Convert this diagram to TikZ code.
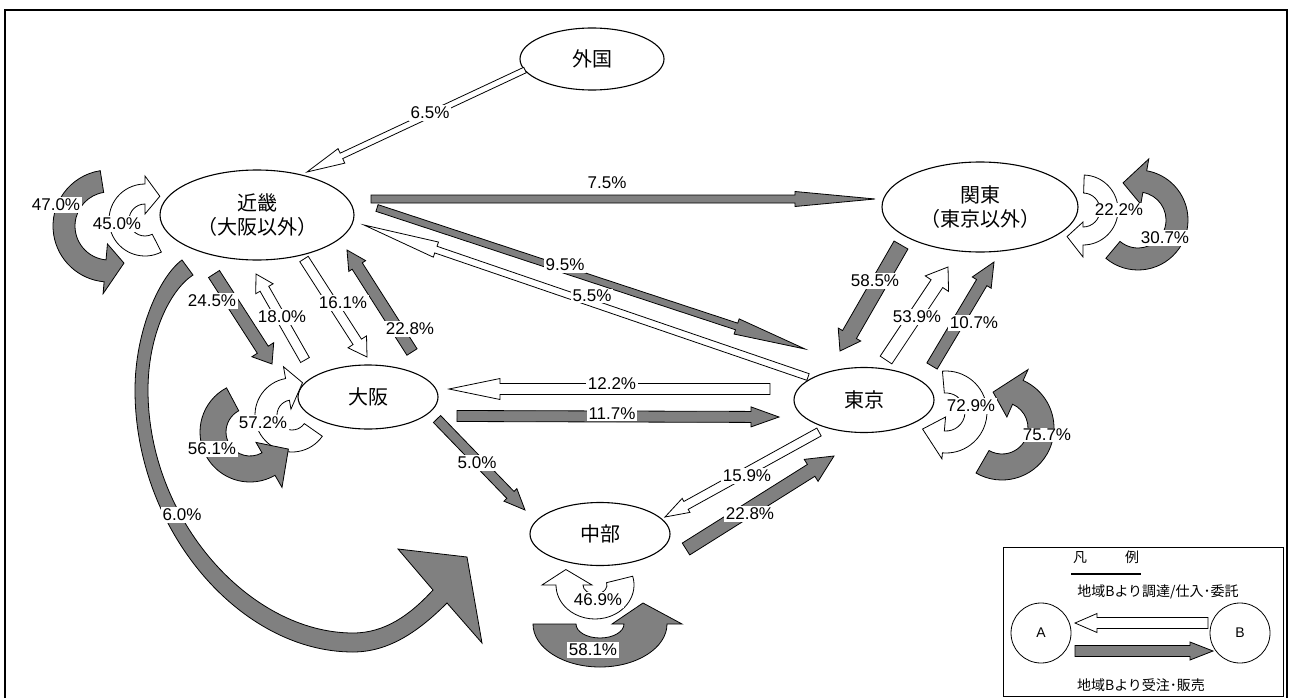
\documentclass[tikz,border=0pt]{standalone}
\usepackage{fontspec}
\setmainfont{Liberation Sans}
\newfontfamily\jpfont{Noto Sans CJK JP}
\usetikzlibrary{shapes.geometric,calc}
\definecolor{arrgray}{HTML}{808080}

% straight block arrow: style, tail, tip, half shaft width, half head width, head length
\newcommand\blockarrow[6]{%
  \coordinate (ba-base) at ($(#3)!#6pt!(#2)$);
  \draw[#1] ($(#2)!#4pt!90:(#3)$) -- ($(ba-base)!#4pt!90:(#3)$)
    -- ($(ba-base)!#5pt!90:(#3)$) -- (#3) -- ($(ba-base)!#5pt!-90:(#3)$)
    -- ($(ba-base)!#4pt!-90:(#3)$) -- ($(#2)!#4pt!-90:(#3)$) -- cycle;
}

\begin{document}
\begin{tikzpicture}[x=1pt,y=1pt,
  region/.style={draw, ellipse, line width=1.1pt, fill=white, inner sep=0pt,
    font=\jpfont\fontsize{20}{24}\selectfont, align=center},
  garr/.style={draw=black, fill=arrgray, line width=0.8pt, line join=miter},
  warr/.style={draw=black, fill=white, line width=0.8pt, line join=miter},
  pct/.style={fill=white, inner sep=1.5pt, font=\fontsize{17}{20}\selectfont},
  legtext/.style={font=\jpfont\fontsize{14}{16}\selectfont, inner sep=0pt},
]
\useasboundingbox (0,0) rectangle (1289,-698);
\fill[white] (0,0) rectangle (1289,-698);
\draw[line width=2.5pt] (5,-698) -- (5,-10) -- (1287,-10) -- (1287,-698);

% regions
\node[region, minimum width=144pt, minimum height=62pt] (gaikoku) at (592,-59) {外国};
\node[region, minimum width=194pt, minimum height=90pt] (kinki) at (257,-215) {近畿\\（大阪以外）};
\node[region, minimum width=196pt, minimum height=90pt] (kanto) at (980,-207) {関東\\（東京以外）};
\node[region, minimum width=140pt, minimum height=64pt] (osaka) at (368,-397) {大阪};
\node[region, minimum width=140pt, minimum height=65pt] (tokyo) at (864,-400) {東京};
\node[region, minimum width=140pt, minimum height=63pt] (chubu) at (600,-534) {中部};

% arrow ends
\coordinate (gai-kin-t) at (525,-70);  \coordinate (gai-kin-h) at (307,-172);
\coordinate (kin-kan-t) at (371,-199); \coordinate (kin-kan-h) at (875,-199);
\coordinate (kin-tok-t) at (377,-208); \coordinate (kin-tok-h) at (805,-349);
\coordinate (tok-kin-t) at (808,-377); \coordinate (tok-kin-h) at (364,-225);
\coordinate (kin-osa-t) at (214,-274); \coordinate (kin-osa-h) at (272,-364);
\coordinate (osa-kin-t) at (305,-360); \coordinate (osa-kin-h) at (256,-274);
\coordinate (kin-osb-t) at (304,-259); \coordinate (kin-osb-h) at (367,-357);
\coordinate (osa-kib-t) at (412,-352); \coordinate (osa-kib-h) at (347,-250);
\coordinate (tok-osa-t) at (770,-389); \coordinate (tok-osa-h) at (449,-389);
\coordinate (osa-tok-t) at (457,-416); \coordinate (osa-tok-h) at (779,-417);
\coordinate (osa-chu-t) at (437,-419); \coordinate (osa-chu-h) at (525,-510);
\coordinate (tok-chu-t) at (819,-432); \coordinate (tok-chu-h) at (665,-517);
\coordinate (chu-tok-t) at (686,-549); \coordinate (chu-tok-h) at (834,-456);
\coordinate (kan-tok-t) at (901,-245); \coordinate (kan-tok-h) at (840,-351);
\coordinate (tok-kan-t) at (886,-360); \coordinate (tok-kan-h) at (948,-267);
\coordinate (tok-kab-t) at (932,-366); \coordinate (tok-kab-h) at (994,-262);

\blockarrow{warr}{gai-kin-t}{gai-kin-h}{3}{8}{38}
\blockarrow{garr}{kin-kan-t}{kin-kan-h}{4}{7.5}{80}
\blockarrow{garr}{kin-tok-t}{kin-tok-h}{3.5}{8}{72}
\blockarrow{warr}{tok-kin-t}{tok-kin-h}{3.5}{8}{76}
\blockarrow{garr}{kin-osa-t}{kin-osa-h}{6.5}{13}{17}
\blockarrow{warr}{osa-kin-t}{osa-kin-h}{5}{10}{17}
\blockarrow{warr}{kin-osb-t}{kin-osb-h}{5}{11}{18}
\blockarrow{garr}{osa-kib-t}{osa-kib-h}{6}{10}{19}
\blockarrow{warr}{tok-osa-t}{tok-osa-h}{5.5}{10.5}{51}
\blockarrow{garr}{osa-tok-t}{osa-tok-h}{5.5}{10}{28}
\blockarrow{garr}{osa-chu-t}{osa-chu-h}{5}{9}{21}
\blockarrow{warr}{tok-chu-t}{tok-chu-h}{4.5}{8}{24}
\blockarrow{garr}{chu-tok-t}{chu-tok-h}{7}{13}{27}
\blockarrow{garr}{kan-tok-t}{kan-tok-h}{8}{13}{19}
\blockarrow{warr}{tok-kan-t}{tok-kan-h}{7}{14}{20}
\blockarrow{garr}{tok-kab-t}{tok-kab-h}{6}{11}{24}

% loops of 近畿
\begin{scope}[shift={(109,-226)}]
\draw[garr] (99:56) arc[start angle=99, end angle=265, radius=56] -- (265:68)
  -- (292:40) -- (265:18) -- (265:34) arc[start angle=265, end angle=99, radius=34] -- cycle;
\end{scope}
\begin{scope}[shift={(145,-220)}]
\draw[warr] (297:36) arc[start angle=297, end angle=90, radius=36] -- (90:44)
  -- (58:28) -- (90:6) -- (90:16) arc[start angle=90, end angle=297, radius=16] -- cycle;
\end{scope}
% 近畿 to 中部, long way round
\draw[garr] (182,-260) .. controls (160,-276) and (135,-330) .. (135,-390)
  .. controls (135,-530) and (240,-652) .. (353,-652)
  .. controls (390,-652) and (420,-630) .. (447,-603)
  -- (482,-643) -- (467,-557) -- (398,-549) -- (433,-590)
  .. controls (410,-615) and (385,-633) .. (353,-633)
  .. controls (250,-633) and (148,-520) .. (148,-390)
  .. controls (148,-335) and (170,-290) .. (193,-275) -- cycle;

% loops of 大阪
\begin{scope}[shift={(292,-415)}]
\draw[warr] (325:37) arc[start angle=325, end angle=100, radius=37] -- (100:49)
  -- (72:34) -- (100:6) -- (100:15) arc[start angle=100, end angle=325, radius=15] -- cycle;
\end{scope}
\begin{scope}[shift={(250,-432)}]
\draw[garr] (118:50) arc[start angle=118, end angle=300, radius=50] -- (300:64)
  -- (336:42) -- (300:12) -- (300:24) arc[start angle=300, end angle=118, radius=24] -- cycle;
\end{scope}

% loops of 中部
\begin{scope}[shift={(595,-585)}]
\draw[warr] (15:39 and 34) arc[start angle=15, end angle=-180, x radius=39, y radius=34]
  -- (180:53 and 34) -- (152:33) -- (180:3) -- (180:12 and 9)
  arc[start angle=180, end angle=375, x radius=12, y radius=9] -- cycle;
\end{scope}
\begin{scope}[shift={(600,-624)}]
\draw[garr] (-67,0) arc[start angle=180, end angle=360, x radius=67, y radius=43]
  -- (82,0) -- (43,21) -- (12,0) -- (24,0)
  arc[start angle=0, end angle=-180, x radius=24, y radius=14] -- cycle;
\end{scope}

% loops of 関東
\begin{scope}[shift={(1083,-210)}]
\draw[warr] (88:35) arc[start angle=88, end angle=-90, radius=35] -- (-90:47)
  -- (-121:31) -- (-90:12) -- (-90:17) arc[start angle=-90, end angle=88, radius=17] -- cycle;
\end{scope}
\begin{scope}[shift={(1138,-220)}]
\draw[garr] (-130:50) arc[start angle=-130, end angle=80, radius=50] -- (80:62)
  -- (112:40) -- (80:16) -- (80:28) arc[start angle=80, end angle=-130, radius=28] -- cycle;
\end{scope}

% loops of 東京
\begin{scope}[shift={(946,-412)}]
\draw[warr] (95:41) arc[start angle=95, end angle=-95, radius=41] -- (-95:47)
  -- (-144:29) -- (-95:5) -- (-95:19) arc[start angle=-95, end angle=95, radius=19] -- cycle;
\end{scope}
\begin{scope}[shift={(1002,-428)}]
\draw[garr] (-120:52) arc[start angle=-120, end angle=66, radius=52] -- (66:64)
  -- (104:37) -- (66:12) -- (66:26) arc[start angle=66, end angle=-120, radius=26] -- cycle;
\end{scope}

% percentages
\node[pct] (p1) at (430,-113) {6.5\%};
\node[pct] (p2) at (607,-183) {7.5\%};
\node[pct] (p3) at (565,-265) {9.5\%};
\node[pct] (p4) at (592,-296) {5.5\%};
\node[pct] (p5) at (56,-205) {47.0\%};
\node[pct] (p6) at (117,-224) {45.0\%};
\node[pct] (p7) at (212,-301) {24.5\%};
\node[pct] (p8) at (282,-317) {18.0\%};
\node[pct] (p9) at (343,-303) {16.1\%};
\node[pct] (p10) at (410,-329) {22.8\%};
\node[pct] (p11) at (263,-423) {57.2\%};
\node[pct] (p12) at (212,-449) {56.1\%};
\node[pct] (p13) at (182,-515) {6.0\%};
\node[pct] (p14) at (477,-463) {5.0\%};
\node[pct] (p15) at (612,-384) {12.2\%};
\node[pct] (p16) at (612,-414) {11.7\%};
\node[pct] (p17) at (747,-476) {15.9\%};
\node[pct] (p18) at (750,-514) {22.8\%};
\node[pct] (p19) at (598,-600) {46.9\%};
\node[pct] (p20) at (593,-650) {58.1\%};
\node[pct] (p21) at (875,-281) {58.5\%};
\node[pct] (p22) at (917,-317) {53.9\%};
\node[pct] (p23) at (974,-323) {10.7\%};
\node[pct] (p24) at (1119,-210) {22.2\%};
\node[pct] (p25) at (1165,-238) {30.7\%};
\node[pct] (p26) at (971,-406) {72.9\%};
\node[pct] (p27) at (1047,-435) {75.7\%};

% legend
\draw[line width=1pt] (1003,-547) rectangle (1283,-696);
\node[legtext] (legtitle) at (1106,-557) {凡\hspace{38pt}例};
\draw[line width=1.2pt] (1071,-574) -- (1141,-574);
\node[legtext] (legbuy) at (1158,-592) {地域Bより調達/仕入･委託};
\node[draw, circle, line width=0.8pt, minimum size=60pt, inner sep=0pt, font=\fontsize{14}{16}\selectfont] (legA) at (1041,-633) {A};
\node[draw, circle, line width=0.8pt, minimum size=60pt, inner sep=0pt, font=\fontsize{14}{16}\selectfont] (legB) at (1240,-633) {B};
\coordinate (leg-w-t) at (1208,-623); \coordinate (leg-w-h) at (1075,-623);
\coordinate (leg-g-t) at (1075,-651); \coordinate (leg-g-h) at (1213,-651);
\blockarrow{warr}{leg-w-t}{leg-w-h}{5.5}{9.5}{22}
\blockarrow{garr}{leg-g-t}{leg-g-h}{5.5}{9}{23}
\node[legtext] (legsell) at (1141,-685) {地域Bより受注･販売};
\end{tikzpicture}
\end{document}
